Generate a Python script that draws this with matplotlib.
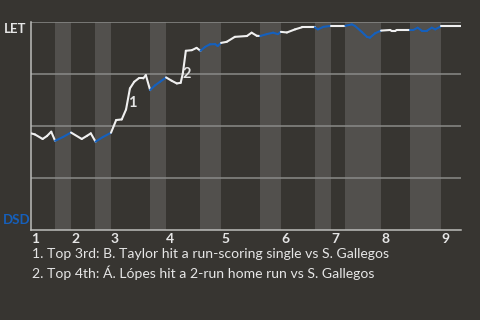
"""
Win probability chart, LET vs DSD.
"""
import numpy as np
import matplotlib
matplotlib.use('Agg')
import matplotlib.pyplot as plt

# game progress (% of game) and LET win probability (%)
progress = [
    0.0, 0.9, 2.7, 3.7, 4.7, 5.6, 7.4, 9.3, 11.8, 13.0, 13.9, 15.0, 16.7, 18.6,
    19.8, 21.1, 22.1, 23.0, 24.0, 25.0, 26.1, 26.7, 27.7, 28.8, 30.0, 31.4,
    32.7, 33.9, 34.8, 35.3, 36.0, 37.4, 38.5, 39.4, 40.5, 41.6, 42.8, 43.4,
    44.2, 45.5, 47.4, 50.2, 51.3, 52.5, 53.3, 54.8, 56.3, 57.4, 58.1, 59.5,
    61.4, 63.0, 66.0, 66.7, 68.0, 69.8, 73.1, 74.6, 75.3, 76.9, 78.1, 78.8,
    80.0, 81.4, 83.5, 83.9, 84.7, 85.0, 88.1, 88.9, 89.9, 90.9, 92.0, 93.2,
    94.0, 95.1, 95.4, 100.0,
]
win_prob = [
    46.5, 46.0, 43.8, 45.2, 47.3, 42.9, 44.7, 46.9, 43.8, 45.3, 46.5, 42.5, 44.7,
    46.8, 52.9, 53.2, 58.0, 68.1, 71.3, 72.9, 72.9, 74.5, 67.3, 69.5, 71.3, 73.4,
    71.8, 70.5, 70.8, 75.3, 86.2, 86.5, 87.6, 86.2, 88.1, 89.3, 89.4, 88.5,
    90.0, 90.5, 92.9, 93.3, 94.9, 93.4, 93.3, 94.2, 94.9, 94.2, 95.3, 95.0,
    96.5, 97.5, 97.5, 96.5, 97.7, 98.2, 98.2, 98.9, 98.2, 95.3, 92.9, 92.5,
    94.6, 95.9, 96.2, 95.7, 95.7, 96.2, 96.2, 96.2, 97.3, 95.8, 95.8, 97.3,
    96.5, 97.7, 98.2, 98.2,
]
# start of each inning (top half) and each bottom half
inning_start = [0.0, 9.3, 18.6, 31.4, 44.2, 58.1, 69.8, 81.4, 95.4]
bottom_start = [5.6, 14.9, 27.7, 39.4, 53.3, 66.0, 73.1, 88.1]
inning_labels = ['1', '2', '3', '4', '5', '6', '7', '8', '9']

# key plays
note_x = [23.5, 36.3]
note_y = [61, 75]
note_labels = ['1', '2']
notes = [
    '1. Top 3rd: B. Taylor hit a run-scoring single vs S. Gallegos',
    '2. Top 4th: Á. Lópes hit a 2-run home run vs S. Gallegos',
]

BG = '#373531'
BAND = '#52504d'
GRID = '#8a8a88'
WHITE = '#f0f0f0'
BLUE = '#1560bd'
TEXT = '#e6e6e6'


def main():
    plt.rcParams['font.family'] = ['Lato', 'DejaVu Sans']
    fig = plt.figure(figsize=(4.8, 3.2), dpi=100, facecolor=BG)
    ax = fig.add_axes([0.0646, 0.281, 0.896, 0.650])
    ax.set_facecolor(BG)

    # shade bottom halves
    half_end = inning_start[1:] + [100.0]
    for b, t in zip(bottom_start, half_end):
        ax.axvspan(b, t, color=BAND, lw=0, zorder=0)

    for yv in [25, 50, 75, 100]:
        ax.axhline(yv, color=GRID, lw=1.1, zorder=1)

    # colour by half inning: blue while DSD bats
    x = np.array(progress)
    y = np.array(win_prob)
    for i in range(len(x) - 1):
        mid = 0.5 * (x[i] + x[i + 1])
        in_bottom = any(b <= mid < t for b, t in zip(bottom_start, half_end))
        ax.plot(x[i:i + 2], y[i:i + 2], color=BLUE if in_bottom else WHITE,
                lw=1.5, solid_capstyle='round', zorder=3)

    for nx, ny, nl in zip(note_x, note_y, note_labels):
        ax.text(nx, ny, nl, color=TEXT, fontsize=10.5, fontweight='bold',
                ha='center', va='center', zorder=4)

    ax.set_xlim(0, 100)
    ax.set_ylim(0, 100)
    ax.set_xticks(inning_start)
    ax.set_xticklabels(inning_labels, fontweight='bold', fontsize=10,
                       color=TEXT, ha='left')
    ax.tick_params(axis='x', length=0, pad=2)
    ax.set_yticks([])
    for side in ['top', 'right']:
        ax.spines[side].set_visible(False)
    for side in ['left', 'bottom']:
        ax.spines[side].set_color('#bdbdbb')
        ax.spines[side].set_linewidth(1.1)

    fig.text(0.008, 0.91, 'LET', color=TEXT, fontsize=9.5, fontweight='bold',
             ha='left', va='center')
    fig.text(0.006, 0.313, 'DSD', color=BLUE, fontsize=9.5, fontweight='bold',
             ha='left', va='center')

    for k, note in enumerate(notes):
        fig.text(0.066, 0.205 - k * 0.057, note, color=TEXT, fontsize=10.1,
                 ha='left', va='center')

    fig.savefig('out.png', dpi=100, facecolor=BG)
    plt.close()


if __name__ == '__main__':
    main()
